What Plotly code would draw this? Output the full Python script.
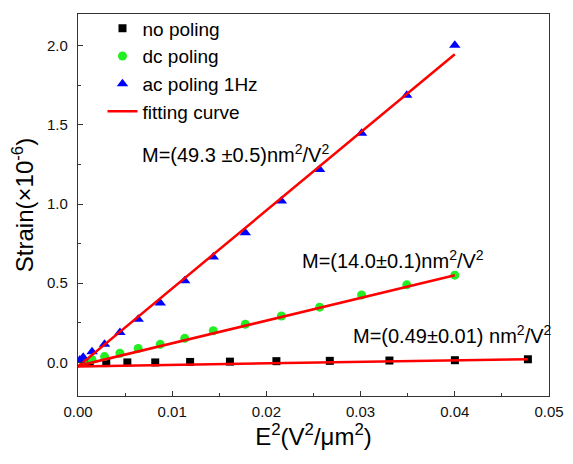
import plotly.graph_objects as go

# ---- data ----
x_no = [0.00125, 0.0030, 0.00524, 0.0082, 0.0119, 0.01613, 0.02106, 0.02673, 0.03306, 0.04001, 0.04776]
y_no = [-0.004, -0.004, 0.000, 0.000, 0.003, 0.005, 0.008, 0.010, 0.012, 0.014, 0.020]

x_dc = [0.00055, 0.00149, 0.00282, 0.00445, 0.00639, 0.00873, 0.01133, 0.01436,
        0.01776, 0.02159, 0.02565, 0.0301, 0.0349, 0.0400]
y_dc = [0.004, 0.018, 0.037, 0.058, 0.088, 0.114, 0.152, 0.200,
        0.241, 0.293, 0.349, 0.426, 0.490, 0.551]

x_ac = [0.0002, 0.00055, 0.00149, 0.00282, 0.00445, 0.00639, 0.00873, 0.01133,
        0.01436, 0.01776, 0.02159, 0.02565, 0.0301, 0.0349, 0.0400]
y_ac = [0.016, 0.033, 0.068, 0.114, 0.189, 0.272, 0.376, 0.515,
        0.665, 0.819, 1.019, 1.218, 1.447, 1.687, 2.002]

# fitted lines (slope, intercept, x range) as drawn
fit_no = dict(slope=0.95, intercept=-0.025, xmax=0.04776)
fit_dc = dict(slope=14.3, intercept=-0.022, xmax=0.0400)
fit_ac = dict(slope=49.3, intercept=-0.026, xmax=0.0400)

labels = ["M=(49.3 ±0.5)nm<sup>2</sup>/V<sup>2</sup>",
          "M=(14.0±0.1)nm<sup>2</sup>/V<sup>2</sup>",
          "M=(0.49±0.01) nm<sup>2</sup>/V<sup>2</sup>"]
label_pos = [(0.0066, 1.32), (0.0236, 0.652), (0.0290, 0.178)]

FONT = "Liberation Sans, Arial, sans-serif"

fig = go.Figure()
fig.add_trace(go.Scatter(x=x_no, y=y_no, mode="markers", name="no poling",
                         marker=dict(symbol="square", size=8, color="black")))
fig.add_trace(go.Scatter(x=x_dc, y=y_dc, mode="markers", name="dc poling",
                         marker=dict(symbol="circle", size=9, color="#22ee22")))
fig.add_trace(go.Scatter(x=x_ac, y=y_ac, mode="markers", name="ac poling 1Hz",
                         marker=dict(symbol="triangle-up", size=10, color="#0000ff")))

for i, f in enumerate([fit_no, fit_dc, fit_ac]):
    xs = [0, f["xmax"]]
    ys = [f["intercept"] + f["slope"] * v for v in xs]
    fig.add_trace(go.Scatter(x=xs, y=ys, mode="lines", name="fitting curve",
                             line=dict(color="#ff0000", width=2.5),
                             legendgroup="fit", showlegend=(i == 0)))

for t, (ax, ay) in zip(labels, label_pos):
    fig.add_annotation(x=ax, y=ay, text=t, showarrow=False, xanchor="left",
                       yanchor="middle", font=dict(family=FONT, size=20, color="black"))

axis_common = dict(showline=True, linecolor="#333333", linewidth=1.3, mirror=True,
                   ticks="inside", ticklen=5, tickwidth=1.2, tickcolor="#333333",
                   showgrid=False, zeroline=False,
                   tickfont=dict(family=FONT, size=15, color="#111111"))

fig.update_xaxes(range=[0, 0.05], dtick=0.01, tick0=0, tickformat=".2f",
                 minor=dict(ticks="inside", ticklen=3, dtick=0.005, tickcolor="#333333"),
                 title=dict(text="E<sup>2</sup>(V<sup>2</sup>/μm<sup>2</sup>)",
                            font=dict(family=FONT, size=24, color="black"), standoff=8),
                 ticklabelstandoff=2,
                 **axis_common)
fig.update_yaxes(range=[-0.212, 2.2], dtick=0.5, tick0=0, tickformat=".1f",
                 minor=dict(ticks="inside", ticklen=3, dtick=0.25, tickcolor="#333333"),
                 title=dict(text="Strain(×10<sup>-6</sup>)",
                            font=dict(family=FONT, size=24, color="black"), standoff=6),
                 ticklabelstandoff=6,
                 **axis_common)

fig.update_layout(width=573, height=464,
                  margin=dict(l=78, r=16, t=9, b=68),
                  paper_bgcolor="white", plot_bgcolor="white",
                  showlegend=True,
                  legend=dict(x=0.052, y=1.012, xanchor="left", yanchor="top",
                              bgcolor="rgba(0,0,0,0)", tracegroupgap=0,
                              font=dict(family=FONT, size=19, color="black")),
                  font=dict(family=FONT))

fig.write_html("out.html", config={"displayModeBar": False},
               post_script="document.body.style.margin='0';")
